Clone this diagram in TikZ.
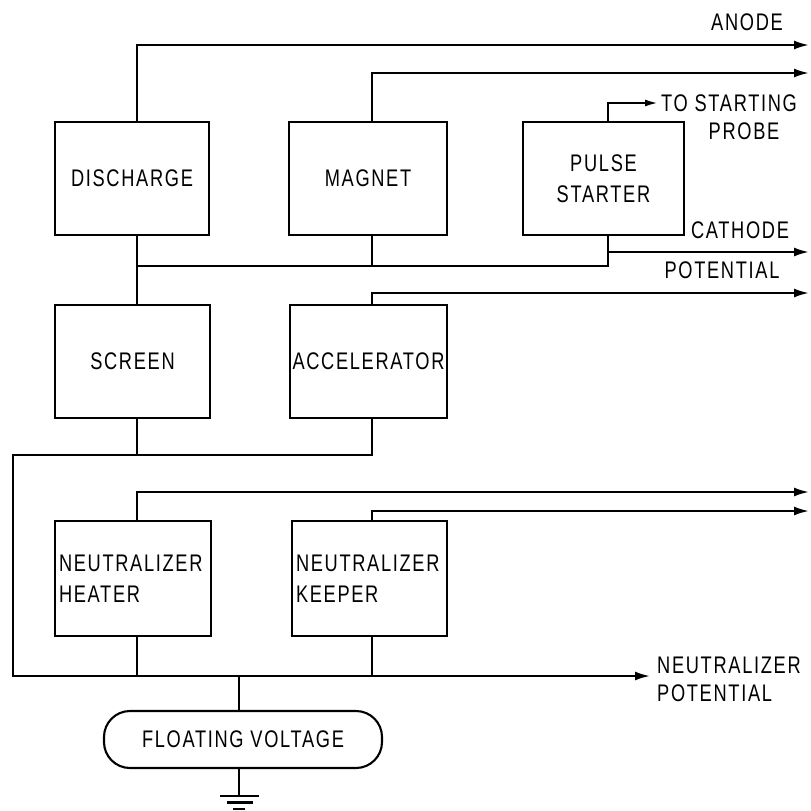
\documentclass[tikz,border=0pt]{standalone}
\usepackage{fontspec}
\setmainfont{Liberation Sans}[FakeStretch=0.76,LetterSpace=7]
\usetikzlibrary{arrows.meta}
\begin{document}
\begin{tikzpicture}[x=1pt,y=-1pt,
  wire/.style={line width=2.1pt},
  arr/.style={wire,-{Latex[length=15pt,width=9pt]}},
  blk/.style={draw,line width=2.1pt,rectangle,minimum height=113pt,inner sep=0pt,
    font=\fontsize{24}{31}\selectfont,align=center},
  lblk/.style={blk,inner xsep=4pt,text width=148pt,align=left},
  lbl/.style={font=\fontsize{24}{28}\selectfont,inner sep=0pt}]
\useasboundingbox (0,0) rectangle (811,811);
% columns and rails
\coordinate (cA) at (137,0);
\coordinate (cB) at (372,0);
\coordinate (cC) at (608,0);
\coordinate (cD) at (239,0);
\coordinate (b1) at (0,266);
\coordinate (b2) at (0,455);
\coordinate (b3) at (0,676);
% blocks
\node[blk,minimum width=154pt] (dis) at (132,178.5) {DISCHARGE};
\node[blk,minimum width=158pt] (mag) at (368,178.5) {MAGNET};
\node[blk,minimum width=161pt] (pul) at (603.5,178.5) {PULSE\\STARTER};
\node[blk,minimum width=155pt] (scr) at (132.5,361.5) {SCREEN};
\node[blk,minimum width=157pt] (acc) at (368.5,361.5) {ACCELERATOR};
\node[lblk,minimum width=156pt,minimum height=115pt] (hea) at (133,578.5) {NEUTRALIZER\\HEATER};
\node[lblk,minimum width=155pt,minimum height=115pt,text width=147pt] (kee) at (369.5,578.5) {NEUTRALIZER\\KEEPER};
\node[draw,line width=2.1pt,rounded corners=26pt,minimum width=278pt,minimum height=57pt,
  font=\fontsize{24}{28}\selectfont] (flo) at (243,739.5) {FLOATING VOLTAGE};
% output ends
\coordinate (anodeEnd) at (809,45);
\coordinate (magEnd) at (809,73);
\coordinate (probeEnd) at (658,103);
\coordinate (cathStart) at (608,252);
\coordinate (cathEnd) at (809,252);
\coordinate (accEnd) at (809,293);
\coordinate (heaEnd) at (809,492);
\coordinate (keeEnd) at (809,511);
\coordinate (L1) at (13,455);
\coordinate (neuEnd) at (650,676);
\coordinate (gnd) at (239,796);
% connectors
\draw[arr] (dis.north -| cA) |- (anodeEnd);
\draw[arr] (mag.north -| cB) |- (magEnd);
\draw[wire,-{Latex[length=13pt,width=7pt]}] (pul.north -| cC) |- (probeEnd);
\draw[wire] (pul.south -| cC) |- (cA |- b1);
\draw[arr] (cathStart) -- (cathEnd);
\draw[wire] (dis.south -| cA) -- (scr.north -| cA);
\draw[wire] (mag.south -| cB) -- (cB |- b1);
\draw[arr] (acc.north -| cB) |- (accEnd);
\draw[wire] (scr.south -| cA) -- (cA |- b2);
\draw[arr] (acc.south -| cB) |- (L1) |- (neuEnd);
\draw[arr] (hea.north -| cA) |- (heaEnd);
\draw[arr] (kee.north -| cB) |- (keeEnd);
\draw[wire] (hea.south -| cA) -- (cA |- b3);
\draw[wire] (kee.south -| cB) -- (cB |- b3);
\draw[wire] (flo.north -| cD) -- (cD |- b3);
\draw[wire] (flo.south -| cD) -- (gnd);
% ground symbol
\draw[wire] (220,796) -- (259,796);
\draw[wire] (227,802.5) -- (253,802.5);
\draw[wire] (233,809) -- (245,809);
% labels
\node[lbl] (tAnode) at (747,22) {ANODE};
\node[lbl,anchor=west] (tTo) at (661,103) {TO STARTING};
\node[lbl] (tProbe) at (744,131) {PROBE};
\node[lbl] (tCath) at (740,230) {CATHODE};
\node[lbl] (tPot) at (722,270) {POTENTIAL};
\node[lbl,anchor=west,align=left] (tNeu) at (657,679) {NEUTRALIZER\\POTENTIAL};
\end{tikzpicture}
\end{document}
